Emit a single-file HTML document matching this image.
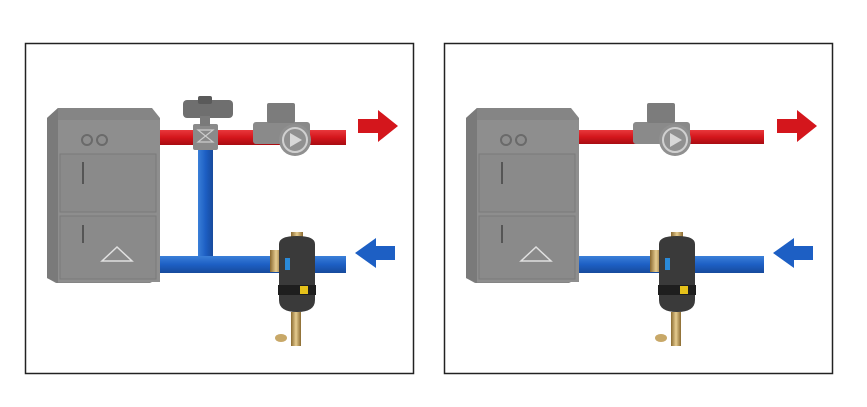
<!DOCTYPE html>
<html><head><style>
html,body{margin:0;padding:0;background:#fff;}
svg{display:block;}
</style></head><body>
<svg width="867" height="407" viewBox="0 0 867 407" xmlns="http://www.w3.org/2000/svg">
<defs>
<linearGradient id="red" x1="0" y1="0" x2="0" y2="1"><stop offset="0" stop-color="#e8383c"/><stop offset="0.5" stop-color="#d4161c"/><stop offset="1" stop-color="#a80c12"/></linearGradient>
<linearGradient id="blue" x1="0" y1="0" x2="0" y2="1"><stop offset="0" stop-color="#3a7fd8"/><stop offset="0.5" stop-color="#1d5fc4"/><stop offset="1" stop-color="#174a9c"/></linearGradient>
<linearGradient id="blueV" x1="0" y1="0" x2="1" y2="0"><stop offset="0" stop-color="#3a7fd8"/><stop offset="0.5" stop-color="#1d5fc4"/><stop offset="1" stop-color="#174a9c"/></linearGradient>
<linearGradient id="brass" x1="0" y1="0" x2="1" y2="0"><stop offset="0" stop-color="#8a6a30"/><stop offset="0.5" stop-color="#e6cc90"/><stop offset="1" stop-color="#8a6a30"/></linearGradient>
<g id="boiler">
  <polygon points="47,118 58,108 152,108 160,118 160,278 150,283 56,283 47,278" fill="#858585"/>
  <rect x="57" y="120" width="103" height="162" fill="#8e8e8e"/>
  <polygon points="47,118 58,108 58,283 47,278" fill="#7a7a7a"/>
  <rect x="60" y="154" width="96" height="58" fill="#8a8a8a" stroke="#7a7a7a"/>
  <rect x="60" y="216" width="96" height="63" fill="#8a8a8a" stroke="#7a7a7a"/>
  <circle cx="87" cy="140" r="5" fill="none" stroke="#6a6a6a" stroke-width="2"/>
  <circle cx="102" cy="140" r="5" fill="none" stroke="#6a6a6a" stroke-width="2"/>
  <rect x="82" y="162" width="2" height="22" fill="#555"/>
  <rect x="82" y="225" width="2" height="18" fill="#555"/>
  <polygon points="117,247 102,261 132,261" fill="none" stroke="#e0e0e0" stroke-width="1.5"/>
</g>
<g id="pump">
  <rect x="253" y="122" width="57" height="22" rx="3" fill="#8a8a8a"/>
  <rect x="267" y="103" width="28" height="20" rx="2" fill="#7c7c7c"/>
  <circle cx="295" cy="140" r="16" fill="#909090"/>
  <circle cx="295" cy="140" r="12" fill="none" stroke="#d0d0d0" stroke-width="2"/>
  <polygon points="290,133 290,147 302,140" fill="#d8d8d8"/>
</g>
<g id="sep">
  <rect x="270" y="250" width="12" height="22" fill="url(#brass)"/>
  <rect x="291" y="232" width="12" height="8" fill="url(#brass)"/>
  <path d="M279,244 Q279,236 297,236 Q315,236 315,244 L315,300 Q315,312 297,312 Q279,312 279,300 Z" fill="#3a3a3a"/>
  <rect x="278" y="285" width="38" height="10" fill="#1e1e1e"/>
  <rect x="300" y="286" width="8" height="8" fill="#e6c21a"/>
  <rect x="285" y="258" width="5" height="12" fill="#2a8ad8"/>
  <rect x="291" y="312" width="10" height="34" fill="url(#brass)"/>
  <ellipse cx="281" cy="338" rx="6" ry="4" fill="#c8a868"/>
</g>
</defs>

<rect x="25.5" y="43.5" width="388" height="330" fill="#fff" stroke="#222" stroke-width="1.5"/>
<rect x="444.5" y="43.5" width="388" height="330" fill="#fff" stroke="#222" stroke-width="1.5"/>

<!-- Panel 1 -->
<use href="#boiler"/>
<rect x="160" y="130" width="186" height="15" fill="url(#red)"/>
<rect x="198" y="145" width="15" height="115" fill="url(#blueV)"/>
<rect x="160" y="256" width="186" height="17" fill="url(#blue)"/>
<polygon points="358,119 378,119 378,110 398,126 378,142 378,133 358,133" fill="#d4161c"/>
<polygon points="395,246 376,246 376,238 355,253 376,268 376,260 395,260" fill="#1d5fc4"/>
<rect x="193" y="124" width="25" height="26" rx="2" fill="#8a8a8a"/>
<polygon points="198,130 213,130 198,142 213,142" fill="none" stroke="#ccc" stroke-width="1.2"/>
<rect x="183" y="100" width="50" height="18" rx="4" fill="#6f6f6f"/>
<rect x="198" y="96" width="14" height="8" rx="2" fill="#5a5a5a"/>
<rect x="200" y="116" width="10" height="10" fill="#7a7a7a"/>
<use href="#pump"/>
<use href="#sep"/>

<!-- Panel 2 -->
<g transform="translate(419,0)">
<use href="#boiler"/>
<rect x="160" y="130" width="185" height="14" fill="url(#red)"/>
<rect x="160" y="256" width="185" height="17" fill="url(#blue)"/>
<polygon points="358,119 378,119 378,110 398,126 378,142 378,133 358,133" fill="#d4161c"/>
<polygon points="394,246 375,246 375,238 354,253 375,268 375,260 394,260" fill="#1d5fc4"/>
</g>
<g transform="translate(380,0)"><use href="#pump"/></g>
<g transform="translate(380,0)"><use href="#sep"/></g>
</svg>
</body></html>
